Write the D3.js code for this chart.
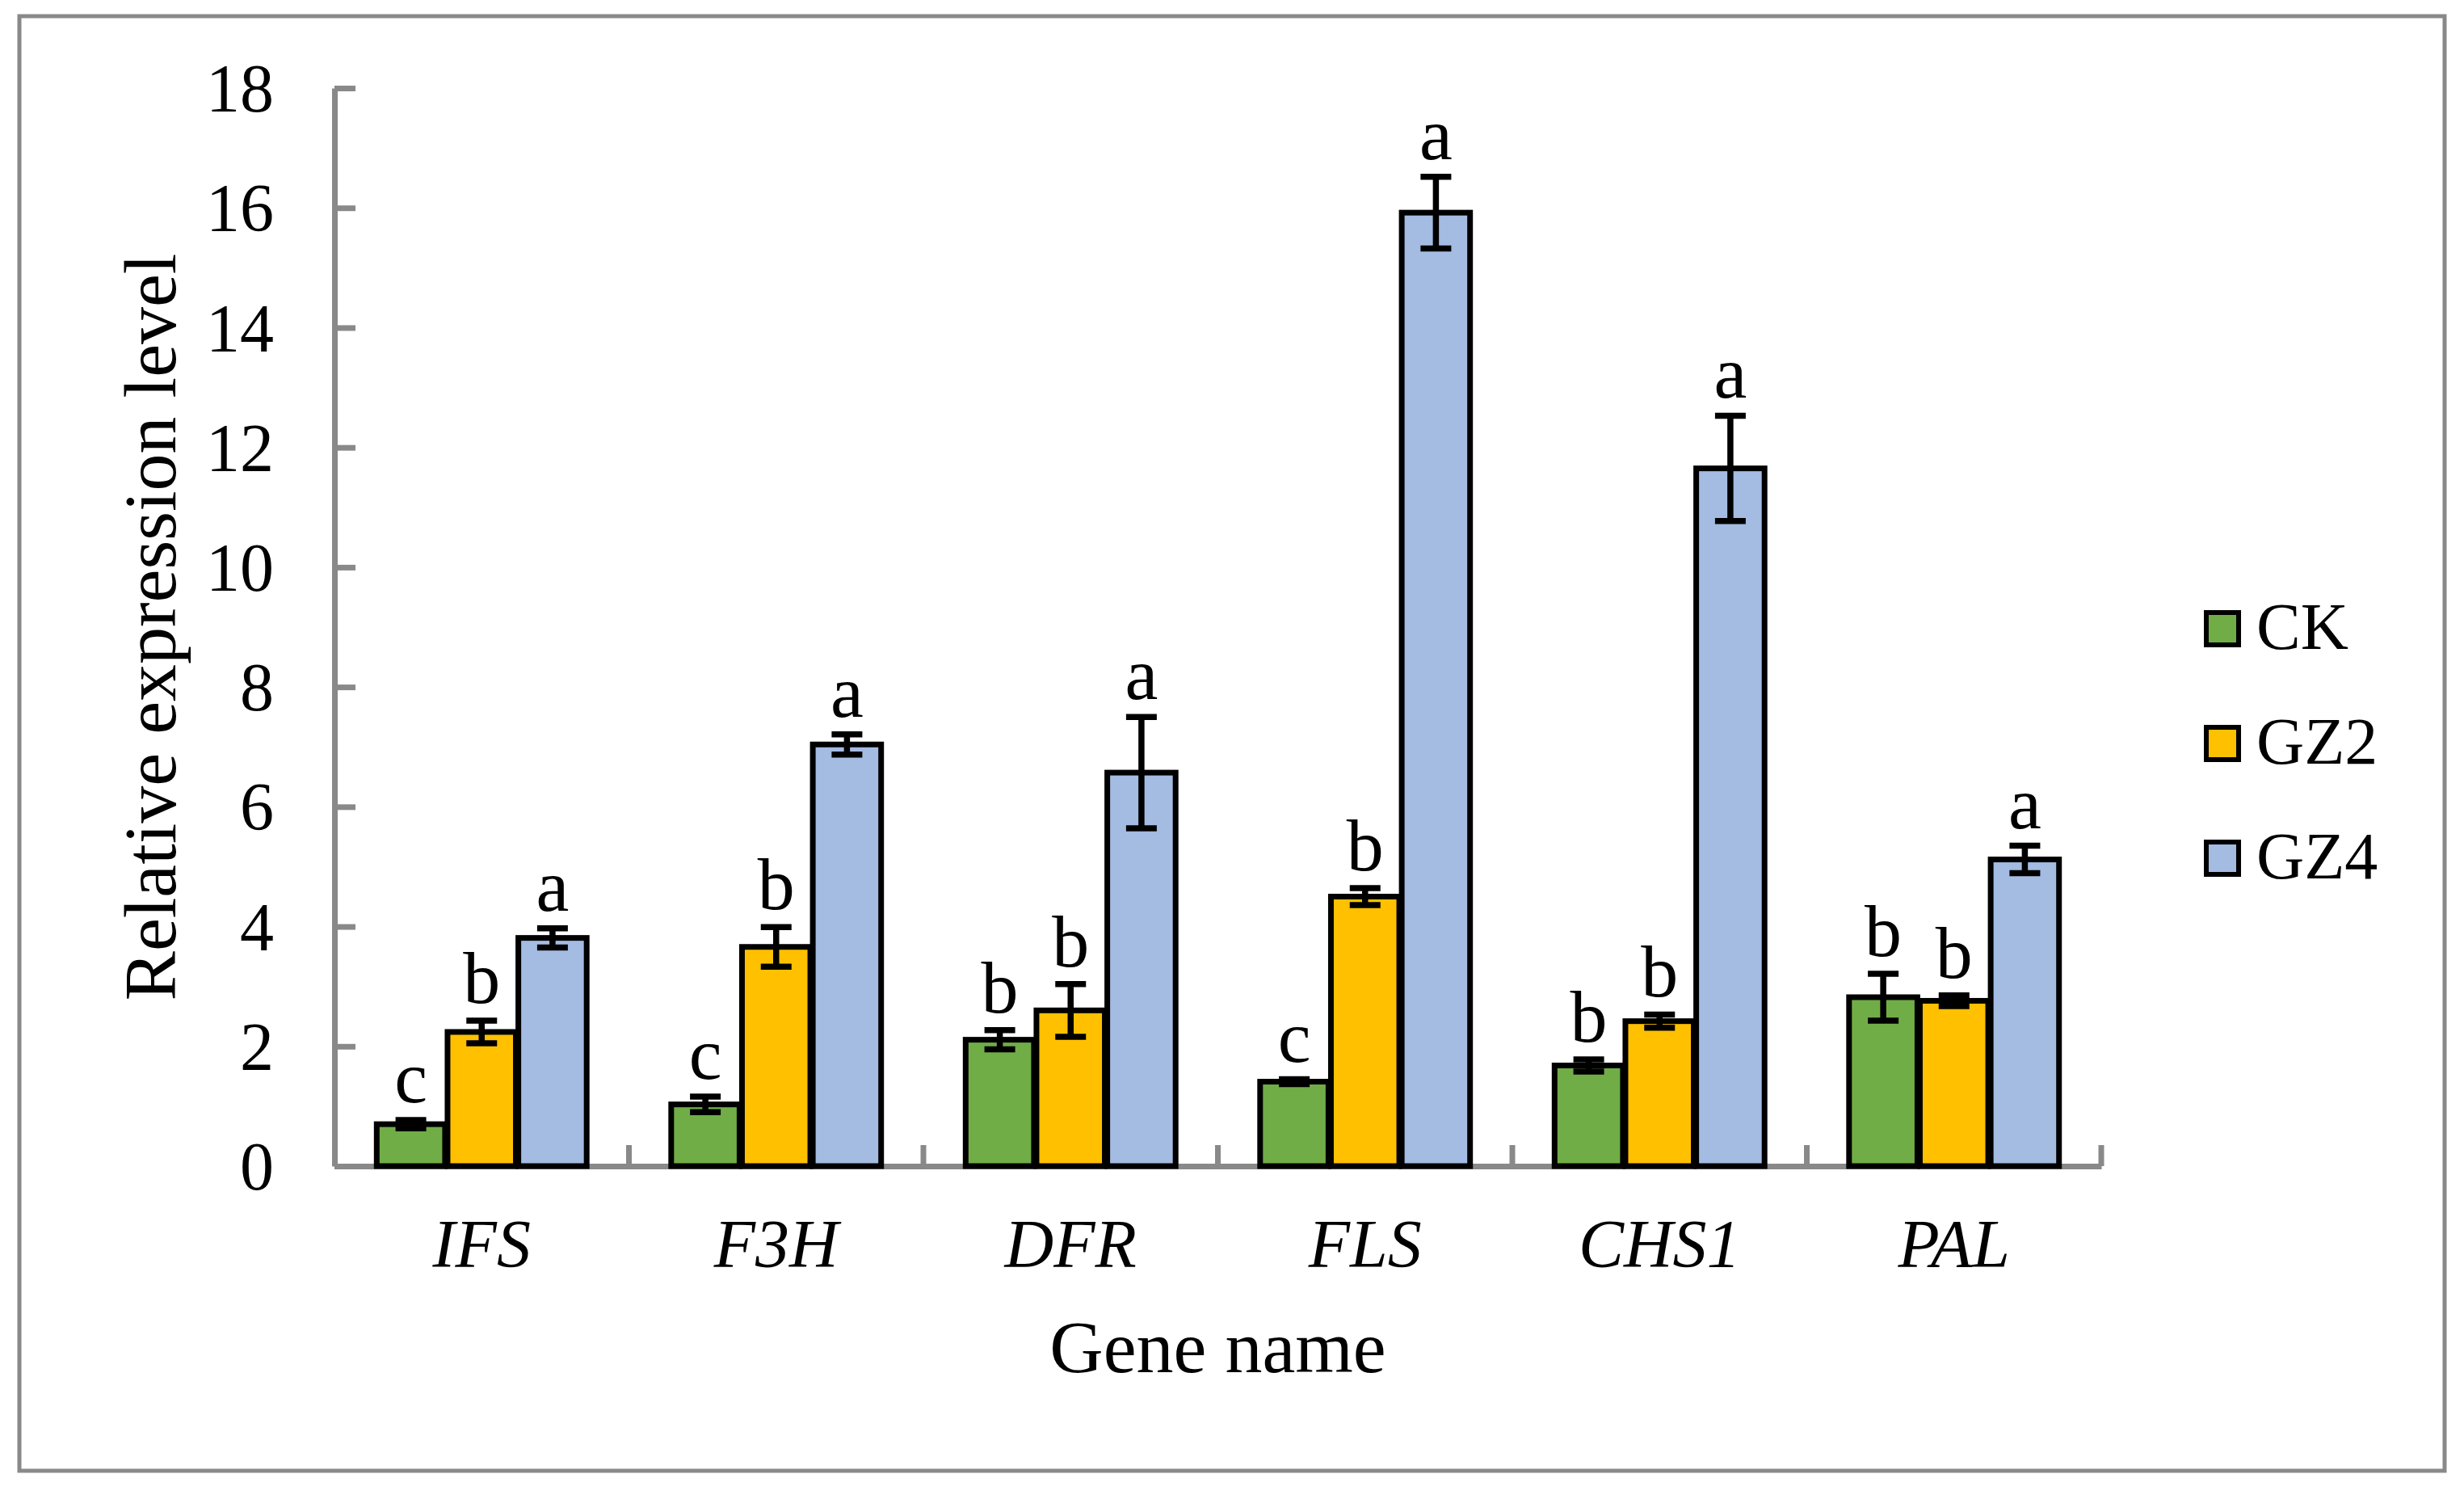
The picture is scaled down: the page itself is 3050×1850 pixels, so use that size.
<!DOCTYPE html>
<html>

<head>
	<meta charset="utf-8">
	<title>Relative expression level</title>
	<script src="https://d3js.org/d3.v7.min.js"></script>
	<style>
		body { margin: 0; background: #fff; }
		text { font-family: "Liberation Serif", "Times New Roman", serif; fill: #000; }
	</style>
</head>

<body>
	<script>
		// chart values
		const genes = ['IFS', 'F3H', 'DFR', 'FLS', 'CHS1', 'PAL'];
		const series = ['CK', 'GZ2', 'GZ4'];
		const ckMean = [0.70, 1.03, 2.11, 1.41, 1.68, 2.82];
		const ckErr = [0.07, 0.13, 0.16, 0.04, 0.10, 0.39];
		const gz2Mean = [2.24, 3.66, 2.60, 4.50, 2.42, 2.76];
		const gz2Err = [0.19, 0.33, 0.44, 0.14, 0.11, 0.09];
		const gz4Mean = [3.81, 7.04, 6.57, 15.92, 11.65, 5.12];
		const gz4Err = [0.16, 0.17, 0.93, 0.60, 0.88, 0.23];
		const ckLetters = ['c', 'c', 'b', 'c', 'b', 'b'];
		const gz2Letters = ['b', 'b', 'b', 'b', 'b', 'b'];
		const gz4Letters = ['a', 'a', 'a', 'a', 'a', 'a'];
		const yTicks = [0, 2, 4, 6, 8, 10, 12, 14, 16, 18];

		const colors = { CK: '#70AD47', GZ2: '#FFC000', GZ4: '#A4BBE2' };
		const grey = '#898989';

		const W = 3050, H = 1850;
		const plot = { left: 414, right: 2601, top: 109, bottom: 1443 };

		// build rows from the arrays
		const means = [ckMean, gz2Mean, gz4Mean];
		const errs = [ckErr, gz2Err, gz4Err];
		const letters = [ckLetters, gz2Letters, gz4Letters];
		const rows = [];
		genes.forEach((g, i) => {
			series.forEach((s, j) => {
				rows.push({ gene: g, series: s, value: means[j][i], err: errs[j][i], letter: letters[j][i] });
			});
		});

		const svg = d3.select('body')
			.append('svg')
			.attr('width', W)
			.attr('height', H);

		svg.append('rect')
			.attr('width', W).attr('height', H)
			.attr('fill', '#fff');

		// outer frame
		svg.append('rect')
			.attr('x', 24).attr('y', 20)
			.attr('width', 3002).attr('height', 1800)
			.attr('fill', 'none')
			.attr('stroke', grey)
			.attr('stroke-width', 5);

		// scales
		const x0 = d3.scaleBand()
			.domain(genes)
			.range([plot.left, plot.right])
			.paddingInner(0.287)
			.paddingOuter(0.1435);

		const x1 = d3.scaleBand()
			.domain(series)
			.range([0, x0.bandwidth()])
			.paddingInner(0.035);

		const y = d3.scaleLinear()
			.domain([0, 18])
			.range([plot.bottom, plot.top]);

		// y axis
		const yAxis = svg.append('g')
			.attr('transform', `translate(${plot.left},0)`)
			.call(d3.axisLeft(y).tickValues(yTicks).tickSizeInner(-26).tickSizeOuter(0).tickPadding(75));
		yAxis.select('.domain').attr('stroke', grey).attr('stroke-width', 7);
		yAxis.selectAll('.tick line').attr('stroke', grey).attr('stroke-width', 7);
		yAxis.selectAll('.tick text')
			.attr('font-size', 84)
			.attr('dy', '0.34em');

		// x axis
		const xAxis = svg.append('g')
			.attr('transform', `translate(0,${plot.bottom})`)
			.call(d3.axisBottom(x0).tickSize(0).tickSizeOuter(0));
		xAxis.select('.domain').attr('stroke', grey).attr('stroke-width', 7);
		xAxis.selectAll('.tick text')
			.attr('font-size', 84)
			.attr('font-style', 'italic')
			.attr('y', 125)
			.attr('dy', 0);

		// category separator ticks (pointing up)
		const step = x0.step();
		svg.append('g')
			.selectAll('line')
			.data(genes)
			.join('line')
			.attr('x1', d => x0(d) - step * x0.paddingInner() / 2 + step)
			.attr('x2', d => x0(d) - step * x0.paddingInner() / 2 + step)
			.attr('y1', plot.bottom)
			.attr('y2', plot.bottom - 26)
			.attr('stroke', grey)
			.attr('stroke-width', 7);

		// bars
		svg.append('g')
			.selectAll('rect')
			.data(rows)
			.join('rect')
			.attr('x', d => x0(d.gene) + x1(d.series))
			.attr('y', d => y(d.value))
			.attr('width', x1.bandwidth())
			.attr('height', d => y(0) - y(d.value))
			.attr('fill', d => colors[d.series])
			.attr('stroke', '#000')
			.attr('stroke-width', 7);

		// error bars
		const eb = svg.append('g')
			.selectAll('g')
			.data(rows)
			.join('g')
			.attr('transform', d => `translate(${x0(d.gene) + x1(d.series) + x1.bandwidth() / 2},0)`);
		eb.append('line')
			.attr('y1', d => y(d.value - d.err))
			.attr('y2', d => y(d.value + d.err))
			.attr('stroke', '#000')
			.attr('stroke-width', 7.5);
		eb.append('line')
			.attr('x1', -19).attr('x2', 19)
			.attr('y1', d => y(d.value + d.err))
			.attr('y2', d => y(d.value + d.err))
			.attr('stroke', '#000')
			.attr('stroke-width', 7.5);
		eb.append('line')
			.attr('x1', -19).attr('x2', 19)
			.attr('y1', d => y(d.value - d.err))
			.attr('y2', d => y(d.value - d.err))
			.attr('stroke', '#000')
			.attr('stroke-width', 7.5);

		// significance letters
		eb.append('text')
			.attr('y', d => y(d.value + d.err) - 22)
			.attr('text-anchor', 'middle')
			.attr('font-size', 92)
			.text(d => d.letter);

		// axis titles
		svg.append('text')
			.attr('transform', `translate(217,${(plot.top + plot.bottom) / 2}) rotate(-90)`)
			.attr('text-anchor', 'middle')
			.attr('font-size', 92)
			.text('Relative expression level');

		svg.append('text')
			.attr('x', (plot.left + plot.right) / 2)
			.attr('y', 1698)
			.attr('text-anchor', 'middle')
			.attr('font-size', 92)
			.text('Gene name');

		// legend
		const legend = svg.append('g')
			.selectAll('g')
			.data(series)
			.join('g')
			.attr('transform', (d, i) => `translate(2731,${758 + i * 142})`);
		legend.append('rect')
			.attr('width', 40).attr('height', 40)
			.attr('fill', d => colors[d])
			.attr('stroke', '#000')
			.attr('stroke-width', 6);
		legend.append('text')
			.attr('x', 62)
			.attr('y', 45)
			.attr('font-size', 82)
			.text(d => d);
	</script>
</body>

</html>
